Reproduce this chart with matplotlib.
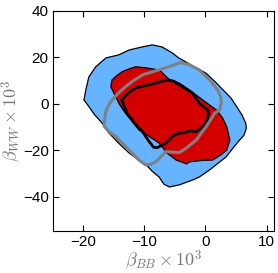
import numpy as np
import matplotlib.pyplot as plt

plt.rcParams['font.family'] = ['Liberation Sans', 'DejaVu Sans']
plt.rcParams['mathtext.fontset'] = 'cm'

# outer (blue) region boundary
blue_x = [-19.9, -19.6, -19.1, -18.0, -16.3, -14.2, -12.5, -10.4, -8.7, -7.1, -5.4,
          -4.5, -2.5, 0.1, 1.6, 2.9, 4.2, 5.1, 6.0, 6.6, 6.7, 6.3, 5.6, 4.5, 3.4,
          2.3, 0.6, -1.0, -2.1, -4.3, -5.9, -6.8, -7.6, -8.7, -9.7, -11.0, -12.5,
          -14.2, -15.8, -16.9, -18.2, -19.1]
blue_y = [1.7, 6.0, 11.6, 15.9, 19.8, 21.1, 23.2, 24.5, 25.4, 24.5, 21.9,
          20.0, 17.0, 13.2, 9.5, 6.0, 2.5, -1.1, -4.8, -8.3, -10.5, -13.5, -15.5, -19.0,
          -22.7, -25.0, -28.5, -31.4, -32.7, -34.8, -35.7, -34.5, -31.4, -29.0, -26.2,
          -24.0, -21.1, -16.9, -12.5, -8.3, -4.5, -1.1]

# inner (red) region boundary
red_x = [-15.3, -14.6, -13.7, -12.6, -11.4, -9.7, -7.6, -7.2, -6.4, -5.9, -4.3,
         -2.6, -0.5, 1.8, 2.8, 3.5, 4.0, 3.5, 2.5, 1.2, -0.6, -2.6, -3.1, -4.8,
         -6.3, -7.6, -9.2, -10.9, -12.0, -13.1, -14.0, -14.7, -15.5]
red_y = [10.3, 12.0, 13.8, 15.0, 16.0, 15.5, 14.6, 13.8, 11.6, 10.5, 9.0,
         6.0, 1.8, -2.6, -6.0, -9.9, -15.5, -19.8, -22.0, -24.1, -24.3, -24.9, -25.8, -24.1,
         -21.1, -16.8, -14.0, -11.2, -7.5, -4.0, -0.5, 3.1, 7.4]

# black contour
black_x = [-13.7, -12.6, -11.4, -9.2, -7.8, -6.4, -5.2, -4.3, -3.2, -2.1, -1.0, 0.4,
           0.5, 0.1, -0.6, -1.5, -2.4, -3.5, -4.6, -5.4, -6.5, -7.9, -8.5, -9.4,
           -10.3, -11.2, -12.0, -12.8, -13.3]
black_y = [1.7, 4.8, 6.9, 8.2, 9.2, 10.3, 9.8, 8.2, 6.5, 4.6, 0.3, -2.6,
           -4.7, -8.3, -10.2, -11.9, -11.6, -12.3, -12.8, -14.0, -16.9, -18.8, -18.6, -15.5,
           -11.9, -9.5, -6.9, -4.2, -1.1]

# grey contour
grey_x = [-4.0, -6.0, -8.1, -10.3, -11.8, -13.1, -14.3, -15.3, -16.0, -16.4, -16.6,
          -15.8, -14.7, -13.4, -12.0, -10.9, -9.8, -9.0, -8.1, -6.5, -5.4, -4.3, -3.2,
          -1.5, -0.7, 0.1, 0.8, 1.5, 2.3, 2.6, 2.5, 2.0, 1.2, 0.7, -1.0, -2.6]
grey_y = [17.8, 16.0, 14.3, 12.5, 10.0, 7.4, 4.6, 1.7, -1.2, -4.0, -9.5,
          -12.0, -14.0, -17.5, -21.2, -24.1, -26.2, -26.0, -24.8, -20.5, -20.7, -20.9, -19.1,
          -15.5, -12.6, -9.8, -7.0, -4.0, -2.6, 0.5, 3.1, 6.0, 8.6, 10.3, 14.6, 16.8]

fig = plt.figure(figsize=(2.78, 2.73), dpi=100)
ax = fig.add_axes([0.19, 0.154, 0.795, 0.806])

ax.fill(blue_x, blue_y, facecolor='#66b3ff', edgecolor='black', lw=0.9)
ax.fill(red_x, red_y, facecolor='#d40000', edgecolor='black', lw=0.9)
ax.plot(black_x + black_x[:1], black_y + black_y[:1], color='black', lw=2.0)
ax.plot(grey_x + grey_x[:1], grey_y + grey_y[:1], color='#808080', lw=2.2)

ax.set_xlim(-25, 11.2)
ax.set_ylim(-54.6, 40)
ax.set_xticks([-20, -10, 0, 10])
ax.set_yticks([-40, -20, 0, 20, 40])
ax.tick_params(direction='in', top=True, right=True, labelsize=11, length=4, pad=3)
ax.set_xlabel(r'$\beta_{BB}\times10^3$', color='#777777', fontsize=13, labelpad=0)
ax.set_ylabel(r'$\beta_{WW}\times10^3$', color='#777777', fontsize=13, labelpad=-1)

fig.savefig('out.png', dpi=100)
